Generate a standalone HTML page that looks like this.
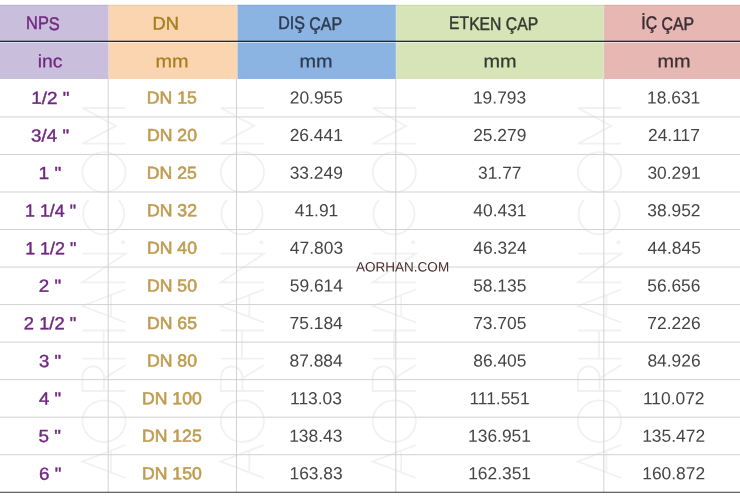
<!DOCTYPE html>
<html><head><meta charset="utf-8"><title>table</title>
<style>
html,body{margin:0;padding:0;background:#fff;}
body{width:740px;height:497px;position:relative;overflow:hidden;font-family:"Liberation Sans",sans-serif;}
.L{position:absolute;left:0;top:0;width:740px;height:497px;will-change:transform;}
.t{position:absolute;left:0;top:0;white-space:pre;line-height:1;transform-origin:0 0;text-rendering:geometricPrecision;}
.a{position:absolute;}
svg{position:absolute;left:0;top:0;}
</style></head><body>
<svg width="740" height="497" viewBox="0 0 740 497">
<rect x="0" y="4.8" width="108.7" height="74.2" fill="#C9BFDD"/>
<rect x="108.7" y="4.8" width="128.6" height="74.2" fill="#FBD5B0"/>
<rect x="237.3" y="4.8" width="158.9" height="74.2" fill="#8BB4E2"/>
<rect x="396.2" y="4.8" width="207.7" height="74.2" fill="#D6E4B8"/>
<rect x="603.9" y="4.8" width="136.1" height="74.2" fill="#E6B7B3"/>
<rect x="108.0" y="4.8" width="1.2" height="74.2" fill="#e6dcd8" fill-opacity=".55"/>
<rect x="236.6" y="4.8" width="1.2" height="74.2" fill="#e6dcd8" fill-opacity=".55"/>
<rect x="395.5" y="4.8" width="1.2" height="74.2" fill="#e6dcd8" fill-opacity=".55"/>
<rect x="603.2" y="4.8" width="1.2" height="74.2" fill="#e6dcd8" fill-opacity=".55"/>
<rect x="0" y="4.8" width="740" height="1" fill="#000" fill-opacity=".06"/>
<rect x="0" y="40.7" width="740" height="1.25" fill="#1a2430"/>
<rect x="0" y="42.0" width="740" height="1" fill="#fff" fill-opacity=".5"/>
<g fill="none" stroke="#f1f1f1" stroke-width="1.8" stroke-linejoin="miter">
<path d="M125.6,478.0L82.4,461.5L125.6,445.0M110.9,472.4L110.9,450.6M125.6,322.5L82.4,306.0L125.6,289.5M110.9,316.9L110.9,295.1M125.6,391L82.4,391L82.4,377.2A10.8,10.8 0 0 1 104.0,377.2L104.0,391M104.0,378.5L125.6,365M82.4,358.7L125.6,358.7M82.4,330.5L125.6,330.5M103.6,358.7L103.6,330.5M125.6,282.3L82.4,282.3L125.6,253.7L82.4,253.7M88.6,199.9A20.5,20.5 0 1 0 118.6,199.9M125.6,143.7L82.4,143.7L115.9,125.9L82.4,108L125.6,108"/><ellipse cx="104.0" cy="421.1" rx="21.6" ry="20.8"/><ellipse cx="104.0" cy="172.2" rx="21.6" ry="20"/><circle cx="123.0" cy="242.3" r="1.1"/>
<path d="M264.0,478.0L220.8,461.5L264.0,445.0M249.3,472.4L249.3,450.6M264.0,322.5L220.8,306.0L264.0,289.5M249.3,316.9L249.3,295.1M264.0,391L220.8,391L220.8,377.2A10.8,10.8 0 0 1 242.4,377.2L242.4,391M242.4,378.5L264.0,365M220.8,358.7L264.0,358.7M220.8,330.5L264.0,330.5M242.0,358.7L242.0,330.5M264.0,282.3L220.8,282.3L264.0,253.7L220.8,253.7M227.0,199.9A20.5,20.5 0 1 0 257.0,199.9M264.0,143.7L220.8,143.7L254.3,125.9L220.8,108L264.0,108"/><ellipse cx="242.4" cy="421.1" rx="21.6" ry="20.8"/><ellipse cx="242.4" cy="172.2" rx="21.6" ry="20"/><circle cx="261.4" cy="242.3" r="1.1"/>
<path d="M415.9,478.0L372.7,461.5L415.9,445.0M401.2,472.4L401.2,450.6M415.9,322.5L372.7,306.0L415.9,289.5M401.2,316.9L401.2,295.1M415.9,391L372.7,391L372.7,377.2A10.8,10.8 0 0 1 394.3,377.2L394.3,391M394.3,378.5L415.9,365M372.7,358.7L415.9,358.7M372.7,330.5L415.9,330.5M393.9,358.7L393.9,330.5M415.9,282.3L372.7,282.3L415.9,253.7L372.7,253.7M378.9,199.9A20.5,20.5 0 1 0 408.9,199.9M415.9,143.7L372.7,143.7L406.2,125.9L372.7,108L415.9,108"/><ellipse cx="394.3" cy="421.1" rx="21.6" ry="20.8"/><ellipse cx="394.3" cy="172.2" rx="21.6" ry="20"/><circle cx="413.3" cy="242.3" r="1.1"/>
<path d="M621.1,478.0L577.9,461.5L621.1,445.0M606.4,472.4L606.4,450.6M621.1,322.5L577.9,306.0L621.1,289.5M606.4,316.9L606.4,295.1M621.1,391L577.9,391L577.9,377.2A10.8,10.8 0 0 1 599.5,377.2L599.5,391M599.5,378.5L621.1,365M577.9,358.7L621.1,358.7M577.9,330.5L621.1,330.5M599.1,358.7L599.1,330.5M621.1,282.3L577.9,282.3L621.1,253.7L577.9,253.7M584.1,199.9A20.5,20.5 0 1 0 614.1,199.9M621.1,143.7L577.9,143.7L611.4,125.9L577.9,108L621.1,108"/><ellipse cx="599.5" cy="421.1" rx="21.6" ry="20.8"/><ellipse cx="599.5" cy="172.2" rx="21.6" ry="20"/><circle cx="618.5" cy="242.3" r="1.1"/>
</g>
<g fill="#d2d2d2">
<rect x="0" y="116.43" width="740" height="1"/>
<rect x="0" y="153.96" width="740" height="1"/>
<rect x="0" y="191.49" width="740" height="1"/>
<rect x="0" y="229.02" width="740" height="1"/>
<rect x="0" y="266.55" width="740" height="1"/>
<rect x="0" y="304.08" width="740" height="1"/>
<rect x="0" y="341.61" width="740" height="1"/>
<rect x="0" y="379.14" width="740" height="1"/>
<rect x="0" y="416.67" width="740" height="1"/>
<rect x="0" y="454.20" width="740" height="1"/>
<rect x="107.7" y="79" width="1" height="413.3"/>
<rect x="236.0" y="79" width="1" height="413.3"/>
<rect x="395.3" y="79" width="1" height="413.3"/>
<rect x="603.3" y="79" width="1" height="413.3"/>
</g>
<rect x="0" y="491.75" width="740" height="1.1" fill="#4d4d4d"/>
</svg>
<div class="L">
<span class="t" style="font-size:18.2px;color:#70277f;-webkit-text-stroke:0.45px #70277f;transform:translate(26.05px,14.49px) skewY(.03deg) scaleX(0.9005)">NPS</span>
<span class="t" style="font-size:18.2px;color:#a67f1e;-webkit-text-stroke:0.45px #a67f1e;transform:translate(152.49px,14.49px) skewY(.03deg) scaleX(1.0075)">DN</span>
<span class="t" style="font-size:18.2px;color:#2d3a50;-webkit-text-stroke:0.45px #2d3a50;transform:translate(278.17px,14.49px) skewY(.03deg) scaleX(0.8799)">DIŞ ÇAP</span>
<span class="t" style="font-size:18.2px;color:#333a30;-webkit-text-stroke:0.45px #333a30;transform:translate(449.06px,14.49px) skewY(.03deg) scaleX(0.8638)">ETKEN ÇAP</span>
<span class="t" style="font-size:18.2px;color:#3a2c34;-webkit-text-stroke:0.45px #3a2c34;transform:translate(641.26px,14.49px) skewY(.03deg) scaleX(0.8710)">İÇ ÇAP</span>
<span class="t" style="font-size:18px;color:#70277f;-webkit-text-stroke:0.25px #70277f;transform:translate(37.69px,52.16px) skewY(.03deg) scaleX(1.0782)">inc</span>
<span class="t" style="font-size:18px;color:#a67f1e;-webkit-text-stroke:0.25px #a67f1e;transform:translate(155.44px,52.16px) skewY(.03deg) scaleX(1.1042)">mm</span>
<span class="t" style="font-size:18px;color:#2d3a50;-webkit-text-stroke:0.25px #2d3a50;transform:translate(299.44px,52.16px) skewY(.03deg) scaleX(1.1042)">mm</span>
<span class="t" style="font-size:18px;color:#333a30;-webkit-text-stroke:0.25px #333a30;transform:translate(483.44px,52.16px) skewY(.03deg) scaleX(1.1042)">mm</span>
<span class="t" style="font-size:18px;color:#3a3030;-webkit-text-stroke:0.25px #3a3030;transform:translate(657.44px,52.16px) skewY(.03deg) scaleX(1.1042)">mm</span>
<span class="t" style="font-size:17.4px;color:#70277f;-webkit-text-stroke:0.4px #70277f;transform:translate(31.14px,89.87px) skewY(.03deg) scaleX(1.0860)">1/2 &quot;</span>
<span class="t" style="font-size:17.4px;color:#c09c50;-webkit-text-stroke:0.6px #c09c50;transform:translate(146.87px,89.52px) skewY(.03deg) scaleX(1.0150)">DN 15</span>
<span class="t" style="font-size:17.4px;color:#444;transform:translate(289.74px,89.52px) skewY(.03deg) scaleX(1.0000)">20.955</span>
<span class="t" style="font-size:17.4px;color:#444;transform:translate(472.95px,89.52px) skewY(.03deg) scaleX(1.0000)">19.793</span>
<span class="t" style="font-size:17.4px;color:#444;transform:translate(647.10px,89.52px) skewY(.03deg) scaleX(1.0000)">18.631</span>
<span class="t" style="font-size:17.4px;color:#70277f;-webkit-text-stroke:0.4px #70277f;transform:translate(31.10px,127.45px) skewY(.03deg) scaleX(1.0786)">3/4 &quot;</span>
<span class="t" style="font-size:17.4px;color:#c09c50;-webkit-text-stroke:0.6px #c09c50;transform:translate(146.96px,127.10px) skewY(.03deg) scaleX(1.0150)">DN 20</span>
<span class="t" style="font-size:17.4px;color:#444;transform:translate(289.65px,127.10px) skewY(.03deg) scaleX(1.0000)">26.441</span>
<span class="t" style="font-size:17.4px;color:#444;transform:translate(473.19px,127.10px) skewY(.03deg) scaleX(1.0000)">25.279</span>
<span class="t" style="font-size:17.4px;color:#444;transform:translate(648.00px,127.10px) skewY(.03deg) scaleX(1.0000)">24.117</span>
<span class="t" style="font-size:17.4px;color:#70277f;-webkit-text-stroke:0.4px #70277f;transform:translate(38.60px,165.03px) skewY(.03deg) scaleX(1.0997)">1 &quot;</span>
<span class="t" style="font-size:17.4px;color:#c09c50;-webkit-text-stroke:0.6px #c09c50;transform:translate(146.77px,164.68px) skewY(.03deg) scaleX(1.0150)">DN 25</span>
<span class="t" style="font-size:17.4px;color:#444;transform:translate(289.69px,164.68px) skewY(.03deg) scaleX(1.0000)">33.249</span>
<span class="t" style="font-size:17.4px;color:#444;transform:translate(477.96px,164.68px) skewY(.03deg) scaleX(1.0000)">31.77</span>
<span class="t" style="font-size:17.4px;color:#444;transform:translate(647.39px,164.68px) skewY(.03deg) scaleX(1.0000)">30.291</span>
<span class="t" style="font-size:17.4px;color:#70277f;-webkit-text-stroke:0.4px #70277f;transform:translate(24.96px,202.61px) skewY(.03deg) scaleX(1.0291)">1 1/4 &quot;</span>
<span class="t" style="font-size:17.4px;color:#c09c50;-webkit-text-stroke:0.6px #c09c50;transform:translate(146.96px,202.26px) skewY(.03deg) scaleX(1.0150)">DN 32</span>
<span class="t" style="font-size:17.4px;color:#444;transform:translate(294.71px,202.26px) skewY(.03deg) scaleX(1.0000)">41.91</span>
<span class="t" style="font-size:17.4px;color:#444;transform:translate(473.29px,202.26px) skewY(.03deg) scaleX(1.0000)">40.431</span>
<span class="t" style="font-size:17.4px;color:#444;transform:translate(647.35px,202.26px) skewY(.03deg) scaleX(1.0000)">38.952</span>
<span class="t" style="font-size:17.4px;color:#70277f;-webkit-text-stroke:0.4px #70277f;transform:translate(25.20px,240.19px) skewY(.03deg) scaleX(1.0270)">1 1/2 &quot;</span>
<span class="t" style="font-size:17.4px;color:#c09c50;-webkit-text-stroke:0.6px #c09c50;transform:translate(146.95px,239.84px) skewY(.03deg) scaleX(1.0150)">DN 40</span>
<span class="t" style="font-size:17.4px;color:#444;transform:translate(289.87px,239.84px) skewY(.03deg) scaleX(1.0000)">47.803</span>
<span class="t" style="font-size:17.4px;color:#444;transform:translate(473.36px,239.84px) skewY(.03deg) scaleX(1.0000)">46.324</span>
<span class="t" style="font-size:17.4px;color:#444;transform:translate(647.61px,239.84px) skewY(.03deg) scaleX(1.0000)">44.845</span>
<span class="t" style="font-size:17.4px;color:#70277f;-webkit-text-stroke:0.4px #70277f;transform:translate(38.83px,277.77px) skewY(.03deg) scaleX(1.0819)">2 &quot;</span>
<span class="t" style="font-size:17.4px;color:#c09c50;-webkit-text-stroke:0.6px #c09c50;transform:translate(146.95px,277.42px) skewY(.03deg) scaleX(1.0150)">DN 50</span>
<span class="t" style="font-size:17.4px;color:#444;transform:translate(289.74px,277.42px) skewY(.03deg) scaleX(1.0000)">59.614</span>
<span class="t" style="font-size:17.4px;color:#444;transform:translate(473.18px,277.42px) skewY(.03deg) scaleX(1.0000)">58.135</span>
<span class="t" style="font-size:17.4px;color:#444;transform:translate(647.22px,277.42px) skewY(.03deg) scaleX(1.0000)">56.656</span>
<span class="t" style="font-size:17.4px;color:#70277f;-webkit-text-stroke:0.4px #70277f;transform:translate(23.85px,315.35px) skewY(.03deg) scaleX(1.0532)">2 1/2 &quot;</span>
<span class="t" style="font-size:17.4px;color:#c09c50;-webkit-text-stroke:0.6px #c09c50;transform:translate(146.91px,315.00px) skewY(.03deg) scaleX(1.0150)">DN 65</span>
<span class="t" style="font-size:17.4px;color:#444;transform:translate(289.60px,315.00px) skewY(.03deg) scaleX(1.0000)">75.184</span>
<span class="t" style="font-size:17.4px;color:#444;transform:translate(473.13px,315.00px) skewY(.03deg) scaleX(1.0000)">73.705</span>
<span class="t" style="font-size:17.4px;color:#444;transform:translate(647.37px,315.00px) skewY(.03deg) scaleX(1.0000)">72.226</span>
<span class="t" style="font-size:17.4px;color:#70277f;-webkit-text-stroke:0.4px #70277f;transform:translate(38.95px,352.93px) skewY(.03deg) scaleX(1.0685)">3 &quot;</span>
<span class="t" style="font-size:17.4px;color:#c09c50;-webkit-text-stroke:0.6px #c09c50;transform:translate(146.95px,352.58px) skewY(.03deg) scaleX(1.0150)">DN 80</span>
<span class="t" style="font-size:17.4px;color:#444;transform:translate(289.52px,352.58px) skewY(.03deg) scaleX(1.0000)">87.884</span>
<span class="t" style="font-size:17.4px;color:#444;transform:translate(473.21px,352.58px) skewY(.03deg) scaleX(1.0000)">86.405</span>
<span class="t" style="font-size:17.4px;color:#444;transform:translate(647.41px,352.58px) skewY(.03deg) scaleX(1.0000)">84.926</span>
<span class="t" style="font-size:17.4px;color:#70277f;-webkit-text-stroke:0.4px #70277f;transform:translate(38.92px,390.51px) skewY(.03deg) scaleX(1.0699)">4 &quot;</span>
<span class="t" style="font-size:17.4px;color:#c09c50;-webkit-text-stroke:0.6px #c09c50;transform:translate(141.95px,390.16px) skewY(.03deg) scaleX(1.0150)">DN 100</span>
<span class="t" style="font-size:17.4px;color:#444;transform:translate(290.01px,390.16px) skewY(.03deg) scaleX(1.0000)">113.03</span>
<span class="t" style="font-size:17.4px;color:#444;transform:translate(469.39px,390.16px) skewY(.03deg) scaleX(1.0000)">111.551</span>
<span class="t" style="font-size:17.4px;color:#444;transform:translate(642.94px,390.16px) skewY(.03deg) scaleX(1.0000)">110.072</span>
<span class="t" style="font-size:17.4px;color:#70277f;-webkit-text-stroke:0.4px #70277f;transform:translate(38.55px,428.09px) skewY(.03deg) scaleX(1.0870)">5 &quot;</span>
<span class="t" style="font-size:17.4px;color:#c09c50;-webkit-text-stroke:0.6px #c09c50;transform:translate(141.90px,427.74px) skewY(.03deg) scaleX(1.0150)">DN 125</span>
<span class="t" style="font-size:17.4px;color:#444;transform:translate(289.16px,427.74px) skewY(.03deg) scaleX(1.0000)">138.43</span>
<span class="t" style="font-size:17.4px;color:#444;transform:translate(468.06px,427.74px) skewY(.03deg) scaleX(1.0000)">136.951</span>
<span class="t" style="font-size:17.4px;color:#444;transform:translate(642.19px,427.74px) skewY(.03deg) scaleX(1.0000)">135.472</span>
<span class="t" style="font-size:17.4px;color:#70277f;-webkit-text-stroke:0.4px #70277f;transform:translate(38.97px,465.67px) skewY(.03deg) scaleX(1.0810)">6 &quot;</span>
<span class="t" style="font-size:17.4px;color:#c09c50;-webkit-text-stroke:0.6px #c09c50;transform:translate(141.95px,465.32px) skewY(.03deg) scaleX(1.0150)">DN 150</span>
<span class="t" style="font-size:17.4px;color:#444;transform:translate(289.48px,465.32px) skewY(.03deg) scaleX(1.0000)">163.83</span>
<span class="t" style="font-size:17.4px;color:#444;transform:translate(468.16px,465.32px) skewY(.03deg) scaleX(1.0000)">162.351</span>
<span class="t" style="font-size:17.4px;color:#444;transform:translate(642.24px,465.32px) skewY(.03deg) scaleX(1.0000)">160.872</span>
<span class="t" style="font-size:13.5px;color:#4c2a2c;transform:translate(355.94px,260.57px) skewY(.03deg) scaleX(1.0024)">AORHAN.COM</span>
</div>
</body></html>
